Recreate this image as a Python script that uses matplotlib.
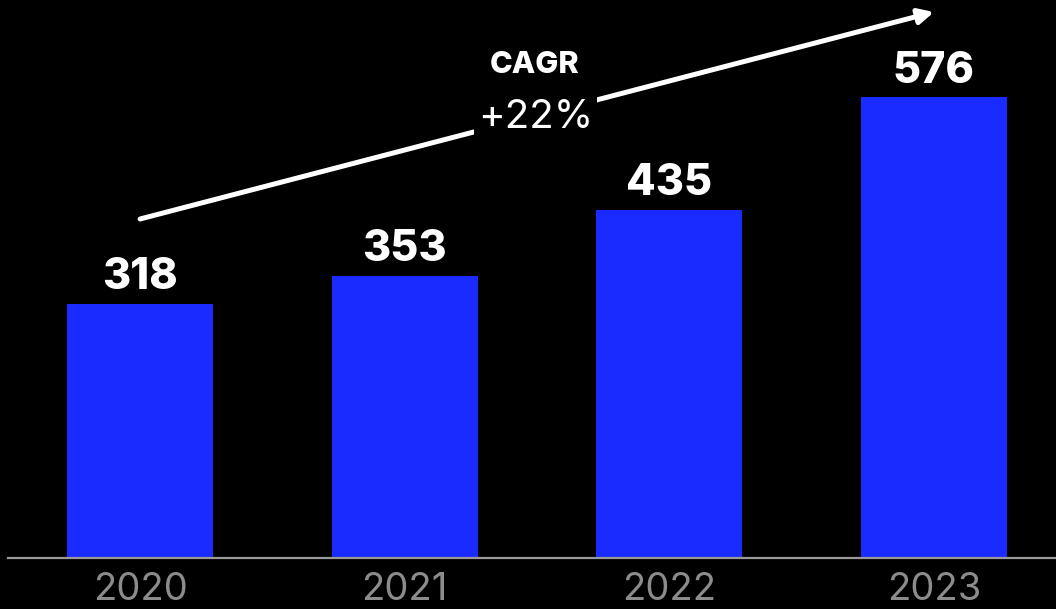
import matplotlib
matplotlib.use("Agg")
import matplotlib.pyplot as plt

years = ["2020", "2021", "2022", "2023"]
values = [318, 353, 435, 576]
cagr_title = "CAGR"
cagr_value = "+22%"

W, H = 1056, 609
fig = plt.figure(figsize=(W / 100, H / 100), dpi=100, facecolor="black")
ax = fig.add_axes([8 / W, (H - 558) / H, 1048 / W, 558 / H], facecolor="black")

x = list(range(len(years)))
ax.bar(x, values, width=0.552, color="#1A2BFF", zorder=2)

ax.set_xlim(-0.499, 3.461)
ax.set_ylim(0, 697.5)

for s in ["top", "right", "left"]:
    ax.spines[s].set_visible(False)
ax.spines["bottom"].set_color("#9a9a9a")
ax.spines["bottom"].set_linewidth(1.6)
ax.set_yticks([])
ax.set_xticks(x)
ax.set_xticklabels(years, color="#8c8c8c", fontsize=27.5, family="Inter")
ax.tick_params(axis="x", length=0, pad=10)

for xi, v in zip(x, values):
    ax.annotate(str(v), (xi, v), xytext=(0, 22), textcoords="offset points",
                ha="center", va="center_baseline", color="white", fontsize=31,
                fontweight="heavy", family="Inter")

ax.annotate("", xy=(3, 682.5), xytext=(0, 423.75),
            arrowprops=dict(arrowstyle="-|>,head_length=0.9,head_width=0.45",
                            color="white", lw=3.6, shrinkA=0, shrinkB=0),
            zorder=3, annotation_clip=False)

ax.text(1.49, 616, cagr_title, ha="center", va="center", color="white",
        fontsize=22, fontweight="heavy", family="Inter", zorder=4)
ax.text(1.495, 551, cagr_value, ha="center", va="center", color="white",
        fontsize=29, family="Inter", zorder=4,
        bbox=dict(facecolor="black", edgecolor="none", pad=3))

fig.savefig("out.png", dpi=100, facecolor="black")
